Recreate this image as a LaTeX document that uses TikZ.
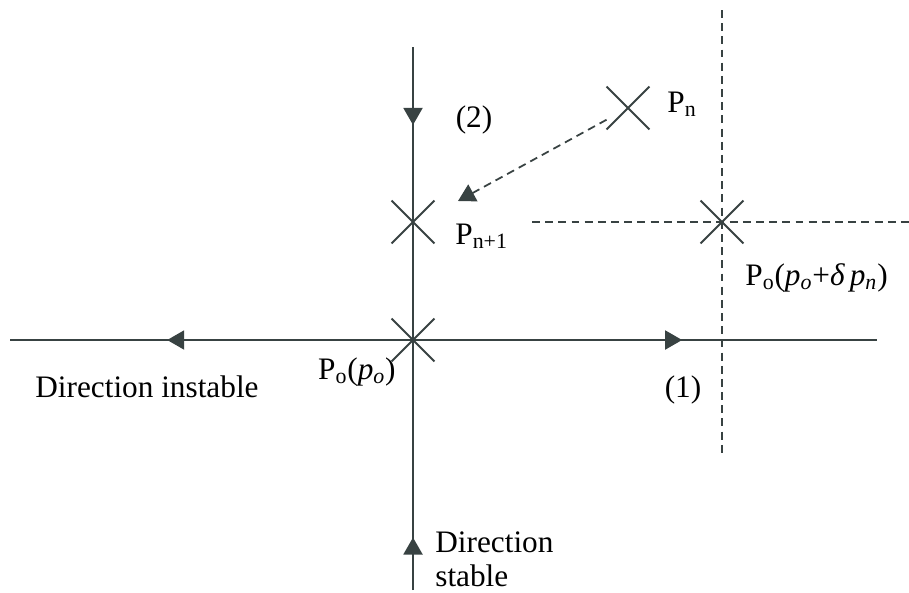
\documentclass[tikz,border=0pt]{standalone}
\usepackage{fontspec}
\setmainfont{Liberation Serif}
\usepackage{tikz}
\usetikzlibrary{positioning,arrows.meta,shapes.misc,decorations.markings}
\definecolor{axisgray}{rgb}{0.22,0.26,0.26}

\begin{document}
\begin{tikzpicture}[
  x=0.02cm, y=-0.02cm,
  every node/.style={font=\fontsize{17.8}{19.3}\selectfont, inner sep=0pt},
  cross/.style={draw=axisgray, cross out, line width=1.1pt, minimum size=0.82cm},
  axis/.style={draw=axisgray, line width=1.1pt},
  guide/.style={draw=axisgray, line width=1pt, dash pattern=on 4.5pt off 3pt},
  tri/.tip={Triangle[length=0.34cm, width=0.38cm]},
  midarrow/.style={postaction={decorate}, decoration={markings,
    mark=at position #1 with {\arrow[axisgray]{tri}}}}
]
\useasboundingbox (0,0) rectangle (909,592);

\coordinate (west) at (10,340);
\coordinate (east) at (877,340);
\coordinate (north) at (413,47);
\coordinate (south) at (413,590);
\coordinate (vtop) at (722,10);
\coordinate (vbot) at (722,455);
\coordinate (hleft) at (532,222);
\coordinate (hright) at (909,222);
\coordinate (target) at (458,201);

\node[cross] (po) at (413,340) {};
\node[cross] (pn1) at (413,222) {};
\node[cross] (pn) at (628,108) {};
\node[cross] (pd) at (722,222) {};

\draw[guide] (vtop) -- (vbot);
\draw[guide] (hleft) -- (hright);
\draw[axis, midarrow=0.61] (po.center) -- (west);
\draw[axis, midarrow=0.58] (po.center) -- (east);
\draw[axis, midarrow=0.266] (north) -- (po.center);
\draw[axis, midarrow=0.21] (south) -- (po.center);
\draw[guide, -{tri}, axisgray] (pn) -- (target);

\node[anchor=base] at (474,127) {(2)};
\node[anchor=base west] at (667,112) {P\textsubscript{n}};
\node[anchor=base west] at (455,244) {P\textsubscript{n+1}};
\node[anchor=base west] at (745,285)
  {P\textsubscript{o}(\textit{p}\textsubscript{\textit{o}}+\textit{δ\,p}\textsubscript{\textit{n}})};
\node[anchor=base east] at (396,379) {P\textsubscript{o}(\textit{p}\textsubscript{\textit{o}})};
\node[anchor=base west] at (35,397) {Direction instable};
\node[anchor=base] at (683,397) {(1)};
\node[anchor=west, align=left] at (435,559) {Direction\\stable};
\end{tikzpicture}
\end{document}
